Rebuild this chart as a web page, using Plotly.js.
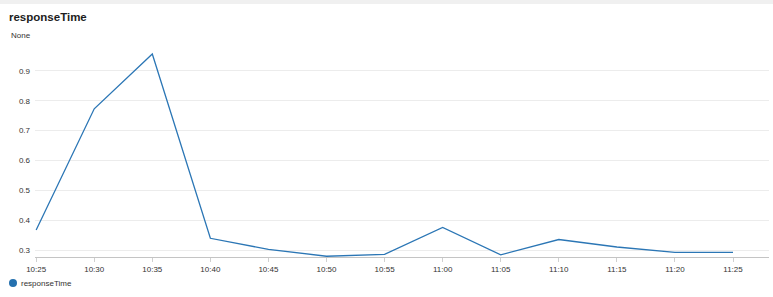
<!DOCTYPE html>
<html>
<head>
<meta charset="utf-8">
<script src="https://cdn.plot.ly/plotly-3.0.1.min.js"></script>
<style>
html,body{margin:0;padding:0;background:#fff;}
#chart{width:773px;height:297px;}
</style>
</head>
<body>
<div id="chart"></div>
<script>
// Data
const times = ["10:25","10:30","10:35","10:40","10:45","10:50","10:55","11:00","11:05","11:10","11:15","11:20","11:25"];
const responseTime = [0.368,0.773,0.956,0.340,0.303,0.280,0.286,0.376,0.285,0.336,0.311,0.293,0.293];
const seriesName = "responseTime";
const chartTitle = "responseTime";
const unitLabel = "None";
const day = "2024-01-01 ";

const W = 773, H = 297;
const M = {l:35, r:4, t:45, b:40};
const plotH = H - M.t - M.b;
const plotW = W - M.l - M.r;
const py = p => (H - M.b - p) / plotH;   // pixel y -> paper y
const px = p => (p - M.l) / plotW;       // pixel x -> paper x

const lineColor = "#2b76b5";
const legendColor = "#2470ae";
const font = "Liberation Sans, Arial, Helvetica, sans-serif";

const trace = {
  x: times.map(t => day + t),
  y: responseTime,
  type: "scatter",
  mode: "lines",
  name: seriesName,
  line: {color: lineColor, width: 1.3},
  showlegend: false,
  hoverinfo: "x+y"
};

const layout = {
  width: W, height: H,
  margin: M,
  paper_bgcolor: "#ffffff",
  plot_bgcolor: "#ffffff",
  font: {family: font, size: 8, color: "#333"},
  showlegend: false,
  xaxis: {
    type: "date",
    range: [day + "10:24:54", day + "11:28:06"],
    tick0: day + "10:25",
    dtick: 300000,
    tickformat: "%H:%M",
    showgrid: false,
    showline: true,
    linecolor: "#c4c4c4",
    linewidth: 1,
    ticks: "outside",
    ticklen: 4,
    tickcolor: "#d0d0d0",
    tickfont: {family: font, size: 8, color: "#333"},
    zeroline: false,
    fixedrange: true
  },
  yaxis: {
    range: [0.2775, 0.9862],
    dtick: 0.1,
    tick0: 0.3,
    tickformat: ".1f",
    showgrid: true,
    gridcolor: "#ececec",
    gridwidth: 1,
    showline: false,
    zeroline: false,
    ticks: "",
    ticklabelstandoff: 4,
    tickfont: {family: font, size: 8, color: "#333"},
    fixedrange: true
  },
  shapes: [
    {type: "rect", xref: "paper", yref: "paper", x0: px(0), x1: px(W), y0: py(4), y1: py(0),
     fillcolor: "#f0f0f0", line: {width: 0}, layer: "below"},
    {type: "circle", xref: "paper", yref: "paper", xsizemode: "pixel", ysizemode: "pixel",
     xanchor: px(13), yanchor: py(283), x0: -4, x1: 4, y0: -4, y1: 4,
     fillcolor: legendColor, line: {width: 0}}
  ],
  annotations: [
    {text: "<b>" + chartTitle + "</b>", xref: "paper", yref: "paper", x: px(7), y: py(17),
     xanchor: "left", yanchor: "middle", showarrow: false,
     font: {family: font, size: 11.5, color: "#1d1d1d"}},
    {text: unitLabel, xref: "paper", yref: "paper", x: px(9), y: py(36),
     xanchor: "left", yanchor: "middle", showarrow: false,
     font: {family: font, size: 8, color: "#333"}},
    {text: seriesName, xref: "paper", yref: "paper", x: px(19), y: py(283),
     xanchor: "left", yanchor: "middle", showarrow: false,
     font: {family: font, size: 8, color: "#333"}}
  ]
};

Plotly.newPlot("chart", [trace], layout, {displayModeBar: false, staticPlot: true});
</script>
</body>
</html>
